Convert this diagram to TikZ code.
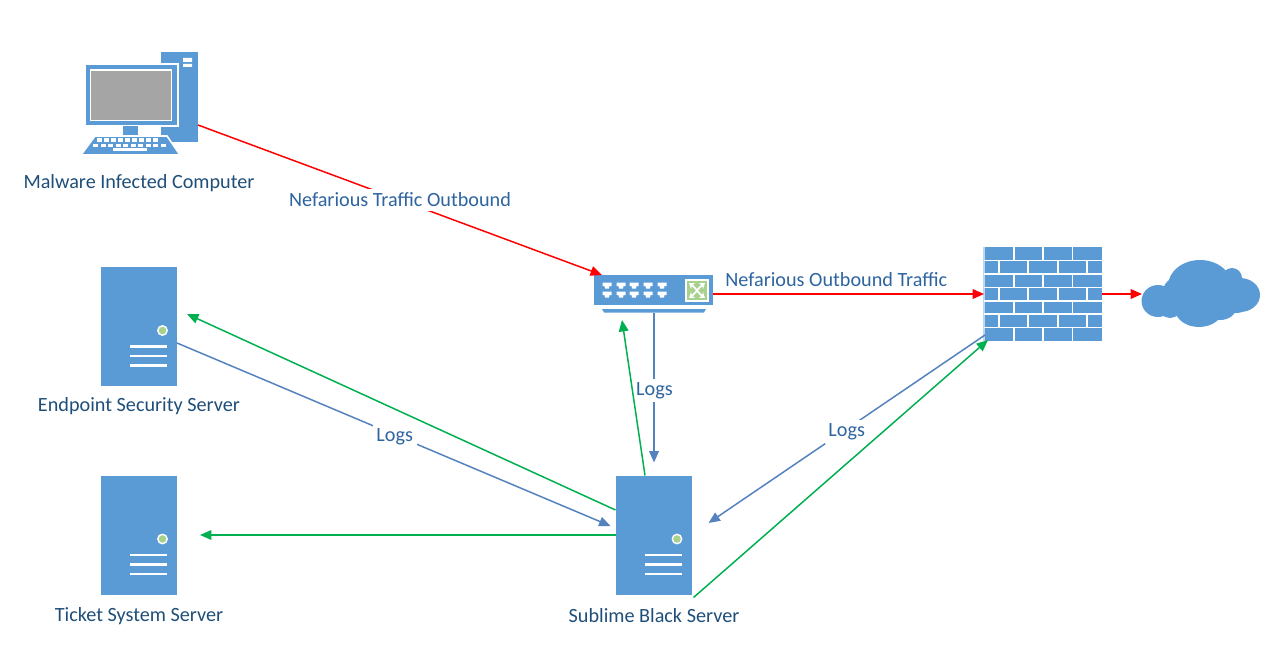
\documentclass[tikz,border=0pt]{standalone}
\usepackage{fontspec}
\setmainfont{Carlito}
\usepackage{tikz}
\usetikzlibrary{arrows.meta,calc}
\definecolor{shapeblue}{RGB}{91,155,213}
\definecolor{lightblue}{RGB}{189,215,238}
\definecolor{screengray}{RGB}{165,165,165}
\definecolor{ledgreen}{RGB}{169,209,142}
\definecolor{trafficred}{RGB}{255,0,0}
\definecolor{replygreen}{RGB}{0,176,80}
\definecolor{logblue}{RGB}{84,130,190}
\definecolor{captionblue}{RGB}{31,78,121}
\definecolor{linklabel}{RGB}{46,100,160}
\tikzset{
  solidbox/.style={fill=shapeblue,inner sep=0pt,outer sep=0pt},
  caption/.style={font=\fontsize{11.5pt}{13pt}\selectfont,text=captionblue,inner sep=1pt},
  linktext/.style={font=\fontsize{11.5pt}{13pt}\selectfont,text=linklabel,fill=white,inner sep=2pt},
  redlink/.style={-{Triangle[length=6.5pt,width=5.5pt]},trafficred,line width=0.85pt},
  greenlink/.style={-{Triangle[length=6.5pt,width=5.5pt]},replygreen,line width=0.85pt},
  loglink/.style={-{Triangle[length=6.5pt,width=5.5pt]},logblue,line width=0.85pt},
}
\newcommand{\serverbox}[3]{%
  \begin{scope}[shift={(#2,#3)}]
    \node[solidbox,minimum width=76*0.02cm,minimum height=119*0.02cm] (#1) at (0,0) {};
    \fill[ledgreen,draw=white,line width=0.8pt] (23.5,4) circle[radius=4.7];
    \draw[white,line width=1.5pt] (-9,20)--(28,20) (-9,29.5)--(28,29.5) (-9,39)--(28,39);
  \end{scope}}
\begin{document}
\begin{tikzpicture}[x=0.02cm,y=-0.02cm]
  \useasboundingbox (0,0) rectangle (1287,655);
  % infected computer
  \node[solidbox,minimum width=37*0.02cm,minimum height=90*0.02cm] (tower) at (179.5,97) {};
  \fill[white] (183,58) rectangle (192,62) (183,64) rectangle (192,67);
  \fill[shapeblue,draw=white,line width=0.7pt] (85,64) rectangle (178,126);
  \fill[screengray,draw=white,line width=0.7pt] (90.5,70) rectangle (171.5,120.5);
  \fill[shapeblue] (123,126) rectangle (138,135);
  \fill[shapeblue,draw=white,line width=0.9pt] (95,136)--(167,136)--(180,155)--(81,155)--cycle;
  \foreach \xa in {0,...,8} {
    \fill[white] (97+\xa*7,138.5) rectangle +(5.2,3.2);
  }
  \foreach \xa in {0,...,9} {
    \fill[white] (93+\xa*7.5,144) rectangle +(5.4,3);
  }
  \fill[white] (113,148.5) rectangle (147,151.5);
  % switch
  \node[solidbox,minimum width=119*0.02cm,minimum height=30*0.02cm] (switch) at (653.5,290) {};
  \fill[shapeblue] (602,309)--(706,309)--(704,312.5)--(604,312.5)--cycle;
  \foreach \xa in {607,621,634,648,662} {
    \foreach \ya in {285.5,294.5} {
      \fill[white] (\xa-4.5,\ya-3)--(\xa+4.5,\ya-3)--(\xa+4.5,\ya+0.5)--(\xa+2.5,\ya+0.5)--(\xa+2,\ya+3)--(\xa-2,\ya+3)--(\xa-2.5,\ya+0.5)--(\xa-4.5,\ya+0.5)--cycle;
    }
  }
  \fill[ledgreen,draw=white,line width=0.7pt] (686,280) rectangle (708,301);
  \draw[white,line width=1pt,{Stealth[length=3pt,width=4pt]}-{Stealth[length=3pt,width=4pt]}] (689,283) .. controls (697,289) and (697,292) .. (705,298);
  \draw[white,line width=1pt,{Stealth[length=3pt,width=4pt]}-{Stealth[length=3pt,width=4pt]}] (689,298) .. controls (697,292) and (697,289) .. (705,283);
  % firewall
  \node[solidbox,minimum width=118*0.02cm,minimum height=94*0.02cm] (firewall) at (1043,294) {};
  \draw[lightblue,line width=0.8pt] (984,247)--(984,341);
  \foreach \ya in {1,...,6} {
    \draw[white,line width=0.9pt] (984,247+\ya*13.43)--(1102,247+\ya*13.43);
  }
  \foreach \ya in {0,2,4,6} {
    \foreach \xa in {1013.7,1043,1072.3} {
      \draw[white,line width=0.9pt] (\xa,247+\ya*13.43)--(\xa,247+\ya*13.43+13.43);
    }
  }
  \foreach \ya in {1,3,5} {
    \foreach \xa in {999,1028,1058,1087} {
      \draw[white,line width=0.9pt] (\xa,247+\ya*13.43)--(\xa,247+\ya*13.43+13.43);
    }
  }
  % cloud
  \node[minimum width=118*0.02cm,minimum height=67*0.02cm,inner sep=0pt,outer sep=0pt] (cloud) at (1201,294) {};
  \fill[shapeblue] (1158,301) ellipse[x radius=16.5,y radius=16]
    (1200,286) ellipse[x radius=32,y radius=26]
    (1232,278) circle[radius=10]
    (1240,295) ellipse[x radius=20,y radius=17]
    (1199,309) ellipse[x radius=24,y radius=18]
    (1170,306) ellipse[x radius=12,y radius=12]
    (1220,308) ellipse[x radius=16,y radius=12]
    (1235,302) ellipse[x radius=18,y radius=11]
    (1178,292) ellipse[x radius=15,y radius=15];
  % servers
  \serverbox{endpoint}{139}{326.5}
  \serverbox{ticket}{139}{535}
  \serverbox{sublime}{653.5}{535}
  % captions
  \node[caption] (pclabel) at (139,183) {Malware Infected Computer};
  \node[caption] (endpointlabel) at (139,406) {Endpoint Security Server};
  \node[caption] (ticketlabel) at (139,616) {Ticket System Server};
  \node[caption] (sublimelabel) at (654,616) {Sublime Black Server};
  % connectors
  \draw[redlink] ([shift={(0,28)}]tower.east) -- ([shift={(8,0)}]switch.north west)
    node[midway,linktext] (outlabel) {Nefarious Traffic Outbound};
  \draw[redlink] ([shift={(0,4)}]switch.east) -- (firewall.west)
    node[pos=0.455,above=2pt,linktext,fill=none] (trafficlabel) {Nefarious Outbound Traffic};
  \draw[redlink] (firewall.east) -- (cloud.west);
  \draw[loglink] ([shift={(0.5,8)}]switch.south) -- ([shift={(0.5,-13)}]sublime.north)
    node[midway,linktext,shift={(0.5,3)}] (logsa) {Logs};
  \draw[loglink] ([shift={(0,16.5)}]endpoint.east) -- ([shift={(-5,-9)}]sublime.west)
    node[midway,linktext,shift={(1,2)}] (logsb) {Logs};
  \draw[loglink] ([shift={(1,41)}]firewall.west) -- ([shift={(17,-12)}]sublime.east)
    node[midway,linktext,shift={(0,3)}] (logsc) {Logs};
  \draw[greenlink] ([shift={(-8.5,0)}]sublime.north) -- ([shift={(-31.5,15)}]switch.south);
  \draw[greenlink] ([shift={(0,-25)}]sublime.west) -- ([shift={(10,-12.5)}]endpoint.east);
  \draw[greenlink] (sublime.west) -- ([shift={(23,0)}]ticket.east);
  \draw[greenlink] ([shift={(2,3)}]sublime.south east) -- ([shift={(4,-1)}]firewall.south west);
\end{tikzpicture}
\end{document}
